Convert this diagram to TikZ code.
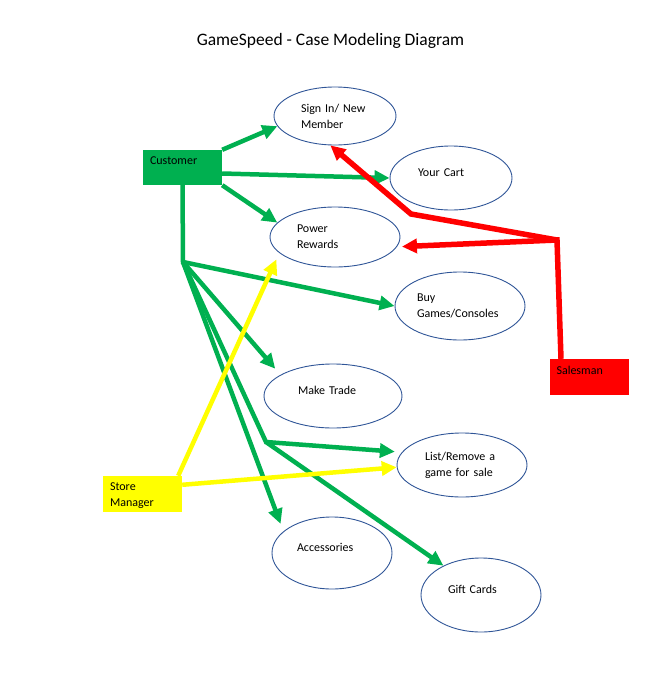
\documentclass[tikz,border=0pt]{standalone}
\usepackage{fontspec}
\setmainfont{Carlito}
\usepackage{xcolor}
\usepackage{tikz}
\usetikzlibrary{arrows.meta, shapes.geometric}

\definecolor{actgreen}{RGB}{0,176,80}
\definecolor{actred}{RGB}{255,0,0}
\definecolor{actyellow}{RGB}{255,255,0}
\definecolor{ovalblue}{RGB}{47,85,151}

\begin{document}
\begin{tikzpicture}[x=1pt, y=-1pt, font=\fontsize{12}{16}\selectfont,
    usecase/.style={ellipse, draw=ovalblue, line width=0.9pt, inner sep=0pt, align=left},
    oneline/.style={text height=8pt, text depth=12pt},
    actor/.style={rectangle, minimum width=79pt, minimum height=36pt, inner sep=0pt},
    actortext/.style={anchor=north west, inner xsep=7pt, inner ysep=7pt, align=left},
    link/.style={line width=4.5pt, -{Triangle[length=15pt, width=14pt]}}]

        \useasboundingbox (0,0) rectangle (653,681);

        \node[font=\fontsize{17.5}{20}\selectfont] (title) at (330.5,41) {GameSpeed - Case Modeling Diagram};

        % use cases
        \node[usecase, minimum width=122pt, minimum height=58pt, text width=68pt] (signin) at (335,116) {Sign In/ New\\Member};
        \node[usecase, oneline, minimum width=122pt, minimum height=64pt, text width=66pt] (cart) at (451,178) {Your Cart};
        \node[usecase, minimum width=130pt, minimum height=60pt, text width=76pt] (power) at (335,237) {Power\\Rewards};
        \node[usecase, minimum width=130pt, minimum height=68pt, text width=86pt] (buy) at (460,306) {Buy\\Games/Consoles};
        \node[usecase, oneline, minimum width=138pt, minimum height=64pt, text width=70pt] (trade) at (333,396) {Make Trade};
        \node[usecase, minimum width=130pt, minimum height=64pt, text width=74pt] (list) at (462,465) {List/Remove a\\game for sale};
        \node[usecase, oneline, minimum width=120pt, minimum height=72pt, text width=70pt] (acc) at (332,553) {Accessories};
        \node[usecase, oneline, minimum width=120pt, minimum height=74pt, text width=66pt] (gift) at (481,595) {Gift Cards};

        % actors
        \node[actor, fill=actgreen, minimum height=35pt, label={[actortext]north west:Customer}] (cust) at (182.5,167.5) {};
        \node[actor, fill=actred, label={[actortext]north west:Salesman}] (sales) at (589,377) {};
        \node[actor, fill=actyellow, label={[actortext]north west:Store\\Manager}] (mgr) at (142.5,494) {};

        \coordinate (j1) at (183,262);
        \coordinate (j2) at (266,442);
        \coordinate (j3) at (557,240);
        \coordinate (j4) at (411,214);

        % customer
        \draw[link, actgreen] (cust.north east) -- (signin.190);
        \draw[link, actgreen] ([yshift=-6pt]cust.east) -- (cart.west);
        \draw[link, actgreen] (cust.south east) -- (power.166);
        \draw[link, actgreen] (cust.south) -- (j1) -- (buy.west);
        \draw[link, actgreen, shorten >=8pt] (j1) -- (trade.158);
        \draw[link, actgreen, shorten >=7pt] (j1) -- (j2) -- (list.168);
        \draw[link, actgreen] (j2) -- (gift.142);
        \draw[link, actgreen, shorten >=8pt] (j1) -- (acc.156);

        % store manager
        \draw[link, actyellow, shorten >=7pt] ([xshift=-4pt]mgr.north east) -- (power.196);
        \draw[link, actyellow] ([yshift=-9pt]mgr.north east) -- (list.182);

        % salesman
        \draw[link, actred, line width=5.5pt, shorten >=5pt] ([xshift=-28pt]sales.north) -- (j3) -- (power.351);
        \draw[link, actred, line width=5.5pt] (j3) -- (j4) -- (signin.261);

\end{tikzpicture}
\end{document}
